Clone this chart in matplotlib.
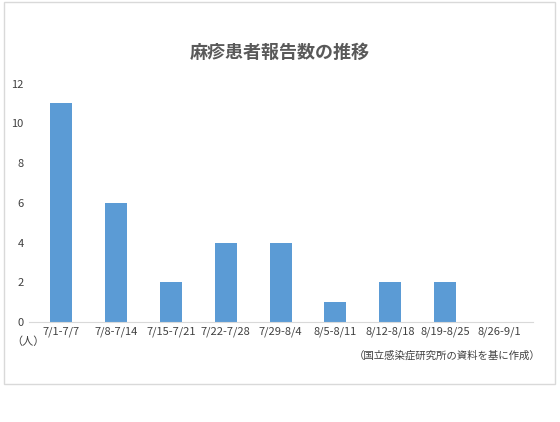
import matplotlib.pyplot as plt
from matplotlib.patches import Rectangle

plt.rcParams['font.family'] = ['Noto Sans CJK JP', 'DejaVu Sans']

# weekly measles reports
weeks = ['7/1-7/7', '7/8-7/14', '7/15-7/21', '7/22-7/28', '7/29-8/4',
         '8/5-8/11', '8/12-8/18', '8/19-8/25', '8/26-9/1']
cases = [11, 6, 2, 4, 4, 1, 2, 2, 0]
yticks = [0, 2, 4, 6, 8, 10, 12]

fig = plt.figure(figsize=(5.6, 4.22), dpi=100)
# outer chart border
fig.patches.append(Rectangle((0.008, 0.09), 0.983, 0.905, transform=fig.transFigure,
                             fill=False, edgecolor='#d9d9d9', linewidth=1))

ax = fig.add_axes([0.051, 0.237, 0.9, 0.565])
ax.bar(range(len(weeks)), cases, width=0.4, color='#5b9bd5')
ax.set_xlim(-0.6, len(weeks) - 0.4)
ax.set_ylim(0, 12)
ax.set_yticks(yticks)
ax.set_xticks(range(len(weeks)))
ax.set_xticklabels(weeks)
ax.tick_params(axis='both', length=0, labelsize=8, colors='#404040')
for s in ['top', 'right', 'left']:
    ax.spines[s].set_visible(False)
ax.spines['bottom'].set_color('#d9d9d9')

fig.text(0.5, 0.875, '麻疹患者報告数の推移', ha='center', va='center',
         fontsize=13, color='#595959', fontweight='bold')
fig.text(0.02, 0.19, '（人）', ha='left', va='center', fontsize=8, color='#404040')
fig.text(0.965, 0.158, '（国立感染症研究所の資料を基に作成）', ha='right', va='center',
         fontsize=7.5, color='#404040')

fig.savefig('out.png', dpi=100)
